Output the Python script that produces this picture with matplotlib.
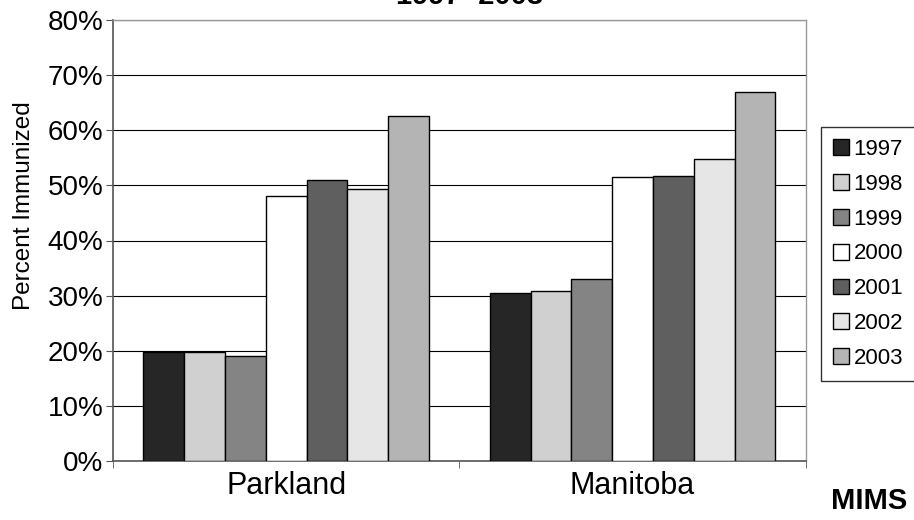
import numpy as np
import matplotlib
matplotlib.use('Agg')
import matplotlib.pyplot as plt
from matplotlib.ticker import FuncFormatter

plt.rcParams['font.family'] = ['Liberation Sans', 'DejaVu Sans']

# data
regions = ['Parkland', 'Manitoba']
years = ['1997', '1998', '1999', '2000', '2001', '2002', '2003']
parkland = [19.7, 19.8, 19.1, 48.1, 50.9, 49.3, 62.5]
manitoba = [30.4, 30.9, 33.0, 51.5, 51.7, 54.8, 67.0]
colors = ['#262626', '#d0d0d0', '#848484', '#ffffff', '#5f5f5f', '#e6e6e6', '#b4b4b4']

fig = plt.figure(figsize=(9.14, 5.2), dpi=100)
ax = fig.add_axes([0.1236, 0.1135, 0.758, 0.848])

values = np.array([parkland, manitoba])
x = np.arange(len(regions))
bw = 0.1177
for i, yr in enumerate(years):
    off = (i - 3) * bw
    ax.bar(x + off, values[:, i], bw, color=colors[i], edgecolor='black',
           linewidth=1.0, label=yr, zorder=3)

ax.set_xlim(-0.5, 1.5)
ax.set_ylim(0, 80)
ax.set_yticks(np.arange(0, 81, 10))
ax.yaxis.set_major_formatter(FuncFormatter(lambda v, p: '%d%%' % v))
ax.yaxis.grid(True, color='black', linewidth=0.8, zorder=0)
ax.set_axisbelow(True)

ax.set_xticks(x)
ax.set_xticklabels(regions)
ax.set_xticks([-0.5, 0.5, 1.5], minor=True)
ax.tick_params(axis='x', which='major', length=0, labelsize=22, pad=7)
ax.tick_params(axis='x', which='minor', length=5, direction='out', color='#555555')
ax.tick_params(axis='y', length=5, direction='out', color='#555555', labelsize=20, pad=2)

for s in ['left', 'bottom']:
    ax.spines[s].set_color('#555555')
    ax.spines[s].set_linewidth(1.2)
for s in ['top', 'right']:
    ax.spines[s].set_color('#999999')
    ax.spines[s].set_linewidth(1.0)

ax.set_ylabel('Percent Immunized', fontsize=17.5)
ax.yaxis.set_label_coords(-0.1126, 0.578)

leg = ax.legend(loc='upper left', bbox_to_anchor=(0.8982, 0.756), bbox_transform=fig.transFigure,
                fontsize=16, frameon=True, fancybox=False, edgecolor='black',
                handlelength=0.72, handleheight=0.72, handletextpad=0.2,
                labelspacing=0.62, borderpad=0.55, borderaxespad=0)
leg.get_frame().set_linewidth(1.0)

fig.text(0.514, 0.992, '1997- 2003', ha='center', va='baseline', fontsize=21, fontweight='bold')
fig.text(0.951, 0.036, 'MIMS', ha='center', va='center', fontsize=21, fontweight='bold')

fig.savefig('out.png', dpi=100)
